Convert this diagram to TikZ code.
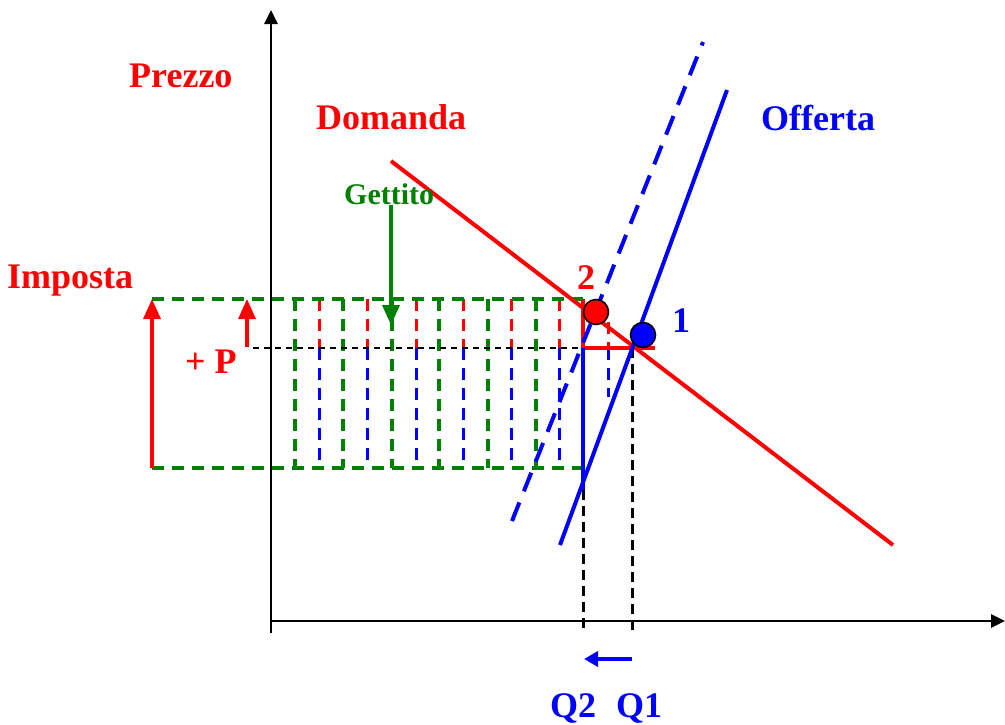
\documentclass[tikz,border=0pt]{standalone}
\usepackage{fontspec}
\setmainfont{Liberation Serif}
\usetikzlibrary{arrows.meta}
\definecolor{dgreen}{RGB}{0,128,0}
\definecolor{pred}{RGB}{255,0,0}
\definecolor{pblue}{RGB}{0,0,255}
\begin{document}
\begin{tikzpicture}[x=1pt,y=-1pt,
  lbl/.style={anchor=base west,inner sep=0pt,font=\fontsize{36}{40}\selectfont\bfseries},
  axisline/.style={line width=2.8pt,-{Triangle[length=14pt,width=13pt]}},
  gdash/.style={dgreen,line width=3.3pt,dash pattern=on 12pt off 8pt},
  rdash/.style={pred,line width=3pt,dash pattern=on 12pt off 8pt},
  bdash/.style={pblue,line width=3pt,dash pattern=on 12pt off 8pt},
  kdash/.style={black,line width=2.3pt,dash pattern=on 6pt off 5pt},
  qdash/.style={black,line width=3pt,dash pattern=on 10pt off 6pt},
  curve/.style={line width=4pt},
  bigarrow/.style={line width=3.3pt,-{Triangle[length=20pt,width=17pt]}},
  dot/.style={circle,draw=black,line width=1.6pt,minimum size=25pt,inner sep=0pt}]
\useasboundingbox (0,0) rectangle (1005,724);

% key coordinates
\coordinate (O) at (271,621);
\coordinate (Ytop) at (271,10);
\coordinate (Xend) at (1005,621);
\coordinate (E1) at (632,348);
\coordinate (Q2top) at (583,348);
\coordinate (Tax) at (583,299);
\coordinate (Low) at (583,468);

% axes
\draw[axisline] (271,633) -- (Ytop);
\draw[axisline] (270,621) -- (Xend);

% hatch (gettito)
\foreach \x in {295,343,392,439,488,536}
  \draw[gdash] (\x,299) -- (\x,468);
\foreach \x in {319,367,416,463,511,559} {
  \draw[rdash] (\x,299) -- (\x,348);
  \draw[bdash] (\x,348) -- (\x,468);
}
\draw[rdash] (608,322) -- (608,348);
\draw[bdash] (608,348) -- (608,397);

% tax rectangle
\coordinate (TL) at (152,299);
\coordinate (BL) at (152,468);
\draw[gdash] (TL) -- (Tax);
\draw[gdash] (BL) -- (Low);

% black dashed price line and quantity lines
\coordinate (Pstart) at (253,348);
\draw[kdash] (Pstart) -- (E1);
\coordinate (Q2bot) at (583,630);
\coordinate (Q1bot) at (632,636);
\coordinate (Q2mid) at (583,490);
\draw[qdash] (Q2mid) -- (Q2bot);
\draw[qdash] (E1) -- (Q1bot);

% red/blue triangle pieces
\draw[pred,line width=3.3pt] (Tax) -- (Q2top) -- (655,348);
\draw[pblue,line width=3.3pt] (Q2top) -- (Q2mid);

% demand and supply
\coordinate (D1) at (391,161);
\coordinate (D2) at (893,545);
\draw[curve,pred] (D1) -- (D2);
\coordinate (S1) at (560,545);
\coordinate (S2) at (727,90);
\draw[curve,pblue] (S1) -- (S2);
\coordinate (T1) at (512,521);
\coordinate (T2) at (703,42);
\draw[curve,pblue,dash pattern=on 20pt off 12pt] (T1) -- (T2);

% equilibrium points
\node[dot,fill=pred] (p2) at (596,312) {};
\node[dot,fill=pblue] (p1) at (643,335) {};

% arrows
\coordinate (SA) at (247,347);
\coordinate (SB) at (247,299);
\draw[bigarrow,pred] (BL) -- (TL);
\draw[bigarrow,pred] (SA) -- (SB);
\coordinate (GA) at (391,205);
\coordinate (GB) at (391,325);
\draw[bigarrow,dgreen] (GA) -- (GB);
\coordinate (QA) at (632,659);
\coordinate (QB) at (584,659);
\draw[pblue,line width=3.8pt,-{Triangle[length=14pt,width=15pt]}] (QA) -- (QB);

% labels
\node[lbl,pred] (prezzo) at (129,87) {Prezzo};
\node[lbl,pred] (domanda) at (316,129) {Domanda};
\node[lbl,pblue] (offerta) at (761,130) {Offerta};
\node[lbl,dgreen,font=\fontsize{30}{34}\selectfont\bfseries] (gettito) at (344,204) {Gettito};
\node[lbl,pred] (imposta) at (7,288) {Imposta};
\node[lbl,pred] (plusp) at (185,373) {+ P};
\node[lbl,pred] (two) at (577,289) {2};
\node[lbl,pblue] (one) at (672,332) {1};
\node[lbl,pblue] (q2) at (550,717) {Q2};
\node[lbl,pblue] (q1) at (616,717) {Q1};
\end{tikzpicture}
\end{document}
